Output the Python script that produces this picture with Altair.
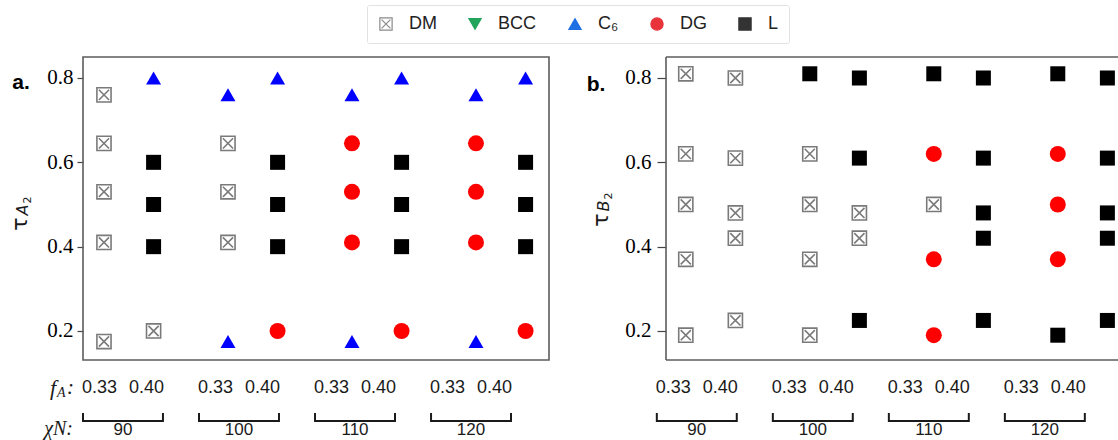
import altair as alt
import pandas as pd

# ---------------------------------------------------------------------------
# Data
# ---------------------------------------------------------------------------
CHI_N = [90, 100, 110, 120]
F_A = ["0.33", "0.40"]
PHASE_NAMES = ["DM", "BCC", "C6", "DG", "L"]

# tau values probed in each column (top to bottom), per f_A
TAU_A2 = {"0.33": [0.76, 0.645, 0.53, 0.41, 0.175],
          "0.40": [0.80, 0.60, 0.50, 0.40, 0.20]}
TAU_B2 = {"0.33": [0.81, 0.62, 0.50, 0.37, 0.19],
          "0.40": [0.80, 0.61, 0.48, 0.42, 0.225]}

# stable phase found at each (chiN, f_A, tau) point, same order as the tau lists
PHASES_A = {
    90:  {"0.33": ["DM", "DM", "DM", "DM", "DM"], "0.40": ["C6", "L", "L", "L", "DM"]},
    100: {"0.33": ["C6", "DM", "DM", "DM", "C6"], "0.40": ["C6", "L", "L", "L", "DG"]},
    110: {"0.33": ["C6", "DG", "DG", "DG", "C6"], "0.40": ["C6", "L", "L", "L", "DG"]},
    120: {"0.33": ["C6", "DG", "DG", "DG", "C6"], "0.40": ["C6", "L", "L", "L", "DG"]},
}
PHASES_B = {
    90:  {"0.33": ["DM", "DM", "DM", "DM", "DM"], "0.40": ["DM", "DM", "DM", "DM", "DM"]},
    100: {"0.33": ["L", "DM", "DM", "DM", "DM"], "0.40": ["L", "L", "DM", "DM", "L"]},
    110: {"0.33": ["L", "DG", "DM", "DG", "DG"], "0.40": ["L", "L", "L", "L", "L"]},
    120: {"0.33": ["L", "DG", "DG", "DG", "L"], "0.40": ["L", "L", "L", "L", "L"]},
}

# ---------------------------------------------------------------------------
# Layout (x in column units: one unit between f_A columns of a pair)
# ---------------------------------------------------------------------------
PLOT_W, PLOT_H = 1035, 303
PX_PER_UNIT = 49.6
X_MIN = -0.423
X_DOMAIN = [X_MIN, X_MIN + PLOT_W / PX_PER_UNIT]
Y_DOMAIN = [0.1312, 0.8498]
PANEL_SHIFT = [0.0, 11.73]          # second panel sits to the right
GROUP_STEP = 2.5                    # between chiN groups of points
LABEL_STEP = 2.339                  # between chiN groups of the label rows
LABEL_SHIFT = [0.383, 0.222]
PAIR_HALF = 0.474
BRACKET_HALF = 0.806
PANEL_A_W = 466
PANEL_B_LEFT = 583

DM_PATH = "M-1,-1H1V1H-1Z M-0.72,-0.72L0.72,0.72 M0.72,-0.72L-0.72,0.72"

MARK_STYLE = {
    "DM": dict(shape=DM_PATH, filled=False, stroke="#7a7a7a", strokeWidth=1.6, size=200),
    "BCC": dict(shape="triangle-down", filled=True, color="#00a050", strokeWidth=0, size=225),
    "C6": dict(shape="triangle-up", filled=True, color="#0000ff", strokeWidth=0, size=225),
    "DG": dict(shape="circle", filled=True, color="#ff0000", strokeWidth=0, size=256),
    "L": dict(shape="square", filled=True, color="#000000", strokeWidth=0, size=225),
}
LEGEND_SHAPES = [DM_PATH, "triangle-down", "triangle-up", "circle", "square"]
LEGEND_FILL = ["transparent", "#22a55b", "#1e6fe3", "#e8333b", "#333333"]
LEGEND_STROKE = ["#8a8a8a", "#22a55b", "#1e6fe3", "#e8333b", "#333333"]

x_scale = alt.Scale(domain=X_DOMAIN, nice=False, zero=False)
y_scale = alt.Scale(domain=Y_DOMAIN, nice=False, zero=False)


def y_axis(**extra):
    opts = dict(values=[0.2, 0.4, 0.6, 0.8], format=".1f", title=None,
                labelFont="Liberation Serif", labelFontSize=21, labelColor="#000",
                tickColor="#444", tickSize=6, tickWidth=1.2, labelPadding=4,
                domain=False, grid=False)
    opts.update(extra)
    return alt.Axis(**opts)


def phase_table(panel, taus, phases):
    rows = []
    for g, chi in enumerate(CHI_N):
        for k, f in enumerate(F_A):
            xpos = PANEL_SHIFT[panel] + g * GROUP_STEP + k
            for tau, ph in zip(taus[f], phases[chi][f]):
                rows.append({"col": xpos, "tau": tau, "phase": ph,
                             "chiN": chi, "fA": f})
    return pd.DataFrame(rows)


def panel(panel_idx, taus, phases, axis):
    df = phase_table(panel_idx, taus, phases)
    layers = []
    for ph in PHASE_NAMES:
        sub = df[df["phase"] == ph]
        if sub.empty:
            continue
        layers.append(
            alt.Chart(sub).mark_point(opacity=1, **MARK_STYLE[ph]).encode(
                x=alt.X("col:Q", scale=x_scale, axis=None),
                y=alt.Y("tau:Q", scale=y_scale, axis=axis),
            )
        )
    return alt.layer(*layers)


def note(text, x, y, **kw):
    return alt.Chart(pd.DataFrame({"t": [text]})).mark_text(**kw).encode(
        x=alt.value(x), y=alt.value(y), text="t:N")


panel_a = panel(0, TAU_A2, PHASES_A, y_axis())
panel_b = panel(1, TAU_B2, PHASES_B,
                y_axis(orient="left", offset=-PANEL_B_LEFT, tickSize=9, labelPadding=6))

# frames
frame_a = alt.Chart(pd.DataFrame({"k": [0]})).mark_rect(
    fillOpacity=0, stroke="#5c5c5c", strokeWidth=1.6).encode(
    x=alt.value(0), x2=alt.value(PANEL_A_W), y=alt.value(0), y2=alt.value(PLOT_H))
frame_b = alt.Chart(pd.DataFrame({
    "x1": [PANEL_B_LEFT, PANEL_B_LEFT, PANEL_B_LEFT],
    "x2": [PANEL_B_LEFT, PLOT_W + 10, PLOT_W + 10],
    "y1": [0, 0, PLOT_H], "y2": [PLOT_H, 0, PLOT_H]})).mark_rule(
    color="#5c5c5c", strokeWidth=1.6).encode(
    x=alt.X("x1:Q", scale=None), x2="x2:Q",
    y=alt.Y("y1:Q", scale=None), y2="y2:Q")

# label rows under each panel: f_A values, brackets, chiN values
label_rows, bracket_rows, end_rows, chi_rows = [], [], [], []
for p in (0, 1):
    for g, chi in enumerate(CHI_N):
        c = PANEL_SHIFT[p] + LABEL_SHIFT[p] + g * LABEL_STEP
        label_rows += [{"x": c - PAIR_HALF, "t": F_A[0]}, {"x": c + PAIR_HALF, "t": F_A[1]}]
        bracket_rows.append({"x1": c - BRACKET_HALF, "x2": c + BRACKET_HALF})
        end_rows += [{"x": c - BRACKET_HALF}, {"x": c + BRACKET_HALF}]
        chi_rows.append({"x": c, "t": str(chi)})

ROW_FA_Y, ROW_CHI_Y = 331, 373
fa_text = alt.Chart(pd.DataFrame(label_rows)).mark_text(
    font="Liberation Sans", fontSize=18, color="#1a1a1a").encode(
    x=alt.X("x:Q", scale=x_scale, axis=None), y=alt.value(ROW_FA_Y), text="t:N")
chi_text = alt.Chart(pd.DataFrame(chi_rows)).mark_text(
    font="Liberation Sans", fontSize=17, color="#1a1a1a").encode(
    x=alt.X("x:Q", scale=x_scale, axis=None), y=alt.value(ROW_CHI_Y), text="t:N")
bracket = alt.Chart(pd.DataFrame(bracket_rows)).mark_rule(
    color="#1a1a1a", strokeWidth=2).encode(
    x=alt.X("x1:Q", scale=x_scale, axis=None), x2="x2:Q", y=alt.value(364))
bracket_ends = alt.Chart(pd.DataFrame(end_rows)).mark_rule(
    color="#1a1a1a", strokeWidth=2).encode(
    x=alt.X("x:Q", scale=x_scale, axis=None), y=alt.value(356), y2=alt.value(365))

serif_it = dict(font="Liberation Serif", fontStyle="italic", color="#1a1a1a")
texts = [
    note("a.", -62, 26, font="Liberation Sans", fontWeight="bold", fontSize=21, color="#000"),
    note("b.", 513, 28, font="Liberation Sans", fontWeight="bold", fontSize=21, color="#000"),
    # axis titles tau_{A2} / tau_{B2}
    note("τ", -63, 167, angle=270, font="DejaVu Sans", fontSize=22, color="#1a1a1a"),
    note("A", -60, 153, angle=270, font="DejaVu Sans", fontStyle="italic", fontSize=16, color="#1a1a1a"),
    note("2", -55, 143, angle=270, font="DejaVu Sans", fontSize=11, color="#1a1a1a"),
    note("τ", 518, 163, angle=270, font="DejaVu Sans", fontSize=22, color="#1a1a1a"),
    note("B", 521, 149, angle=270, font="DejaVu Sans", fontStyle="italic", fontSize=16, color="#1a1a1a"),
    note("2", 526, 139, angle=270, font="DejaVu Sans", fontSize=11, color="#1a1a1a"),
    # row captions
    note("f", -27, ROW_FA_Y, align="right", fontSize=22, **serif_it),
    note("A", -26, ROW_FA_Y + 5, align="left", fontSize=14, **serif_it),
    note(":", -16, ROW_FA_Y, align="left", fontSize=21, **serif_it),
    note("χN:", -10, ROW_CHI_Y - 1, align="right", fontSize=20, **serif_it),
]

# legend built from its own scales; its points sit off-canvas
legend = alt.Legend(orient="none", legendX=284, legendY=-52, direction="horizontal",
                    title=None, labelFont="Liberation Sans", labelFontSize=18,
                    labelColor="#222", symbolSize=150, symbolStrokeWidth=1.2,
                    labelOffset=14, columnPadding=29, padding=10,
                    strokeColor="#e2e2e2", cornerRadius=2,
                    labelExpr="datum.label == 'C6' ? 'C₆' : datum.label")
legend_layer = alt.Chart(pd.DataFrame({"key": PHASE_NAMES})).mark_point(
    opacity=1, strokeWidth=1.2).encode(
    x=alt.value(-900), y=alt.value(-900),
    shape=alt.Shape("key:N", scale=alt.Scale(domain=PHASE_NAMES, range=LEGEND_SHAPES), legend=legend),
    fill=alt.Fill("key:N", scale=alt.Scale(domain=PHASE_NAMES, range=LEGEND_FILL), legend=legend),
    stroke=alt.Stroke("key:N", scale=alt.Scale(domain=PHASE_NAMES, range=LEGEND_STROKE), legend=legend),
)

chart = alt.layer(
    panel_a, panel_b, frame_a, frame_b, fa_text, chi_text, bracket, bracket_ends,
    *texts, legend_layer,
).resolve_scale(y="independent").properties(
    width=PLOT_W, height=PLOT_H,
    autosize=alt.AutoSizeParams(type="none"),
    padding={"left": 83, "top": 57, "right": 0, "bottom": 80},
    background="white",
).configure_view(stroke=None)

chart.save("out.html", embed_options={"renderer": "svg", "actions": False})
